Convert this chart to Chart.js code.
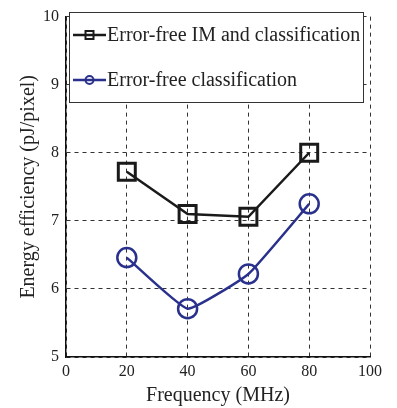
<!DOCTYPE html>
<html>
<head>
<meta charset="utf-8">
<script src="https://cdn.jsdelivr.net/npm/chart.js@4/dist/chart.umd.min.js"></script>
<style>
html, body { margin: 0; padding: 0; background: #fff; }
#wrap { width: 397px; height: 408px; }
</style>
</head>
<body>
<div id="wrap"><canvas id="effChart" width="397" height="408"></canvas></div>
<script>
let frequencies = [20, 40, 60, 80];
let imAndClass = [7.72, 7.10, 7.06, 8.0];
let classOnly = [6.46, 5.71, 6.22, 7.25];
let xTicks = [0, 20, 40, 60, 80, 100];
let yTicks = [5, 6, 7, 8, 9, 10];
let seriesNames = ['Error-free IM and classification', 'Error-free classification'];

const serif = "'Liberation Serif', 'Times New Roman', serif";
const blue = '#2a318c';
const black = '#1a1a1a';

function toPoints(vals) {
  return frequencies.map((f, i) => ({ x: f, y: vals[i] }));
}

// legend drawn inside the plot, matlab style
const boxLegend = {
  id: 'boxLegend',
  afterDatasetsDraw(chart) {
    const ctx = chart.ctx;
    ctx.save();
    ctx.fillStyle = '#fff';
    ctx.fillRect(69.5, 12.5, 294, 90);
    ctx.strokeStyle = '#333';
    ctx.lineWidth = 1;
    ctx.strokeRect(69.5, 12.5, 294, 90);
    const rows = [35, 80];
    chart.data.datasets.forEach((ds, i) => {
      const y = rows[i];
      ctx.strokeStyle = ds.borderColor;
      ctx.lineWidth = 2.5;
      ctx.beginPath();
      ctx.moveTo(73, y);
      ctx.lineTo(106, y);
      ctx.stroke();
      ctx.lineWidth = 2;
      ctx.beginPath();
      if (ds.pointStyle === 'rect') {
        ctx.rect(85.5, y - 4, 8, 8);
      } else {
        ctx.arc(89.5, y, 4, 0, Math.PI * 2);
      }
      ctx.stroke();
      ctx.fillStyle = '#222';
      ctx.font = '20px ' + serif;
      ctx.textBaseline = 'middle';
      ctx.fillText(ds.label, 107, y + 1);
    });
    ctx.restore();
  }
};

function initChart() {
  const ctx = document.getElementById('effChart').getContext('2d');
  new Chart(ctx, {
    type: 'line',
    data: {
      datasets: [{
        label: seriesNames[0],
        data: toPoints(imAndClass),
        borderColor: black,
        borderWidth: 2.5,
        pointStyle: 'rect',
        pointRadius: 12,
        pointBorderWidth: 3,
        pointBorderColor: black,
        pointBackgroundColor: 'rgba(0,0,0,0)',
        tension: 0,
        fill: false
      }, {
        label: seriesNames[1],
        data: toPoints(classOnly),
        borderColor: blue,
        borderWidth: 2.5,
        pointStyle: 'circle',
        pointRadius: 9.5,
        pointBorderWidth: 2.5,
        pointBorderColor: blue,
        pointBackgroundColor: 'rgba(0,0,0,0)',
        tension: 0.12,
        fill: false
      }]
    },
    options: {
      responsive: false,
      animation: false,
      layout: { padding: { left: 0, top: 7, right: 27, bottom: 0 } },
      plugins: { legend: { display: false }, tooltip: { enabled: false } },
      scales: {
        x: {
          type: 'linear',
          min: 0,
          max: 100,
          afterBuildTicks: s => { s.ticks = xTicks.map(v => ({ value: v })); },
          afterFit: s => { s.height = 51; },
          grid: { color: '#333', lineWidth: 1, drawTicks: false },
          border: { display: true, color: '#111', width: 1.5, dash: [4, 4] },
          ticks: { color: '#222', font: { family: serif, size: 16 }, padding: 5 },
          title: { display: true, text: 'Frequency (MHz)', color: '#222', font: { family: serif, size: 20 }, padding: { top: 0, bottom: 0 } }
        },
        y: {
          min: 5,
          max: 10,
          afterBuildTicks: s => { s.ticks = yTicks.map(v => ({ value: v })); },
          afterFit: s => { s.width = 66; },
          grid: { color: '#333', lineWidth: 1, drawTicks: false },
          border: { display: true, color: '#111', width: 1.5, dash: [4, 4] },
          ticks: { color: '#222', font: { family: serif, size: 16 }, padding: 7 },
          title: { display: true, text: 'Energy efficiency (pJ/pixel)', color: '#222', font: { family: serif, size: 20 }, padding: { top: 17, bottom: 0 } }
        }
      }
    },
    plugins: [boxLegend]
  });
}

window.onload = initChart;
</script>
</body>
</html>
